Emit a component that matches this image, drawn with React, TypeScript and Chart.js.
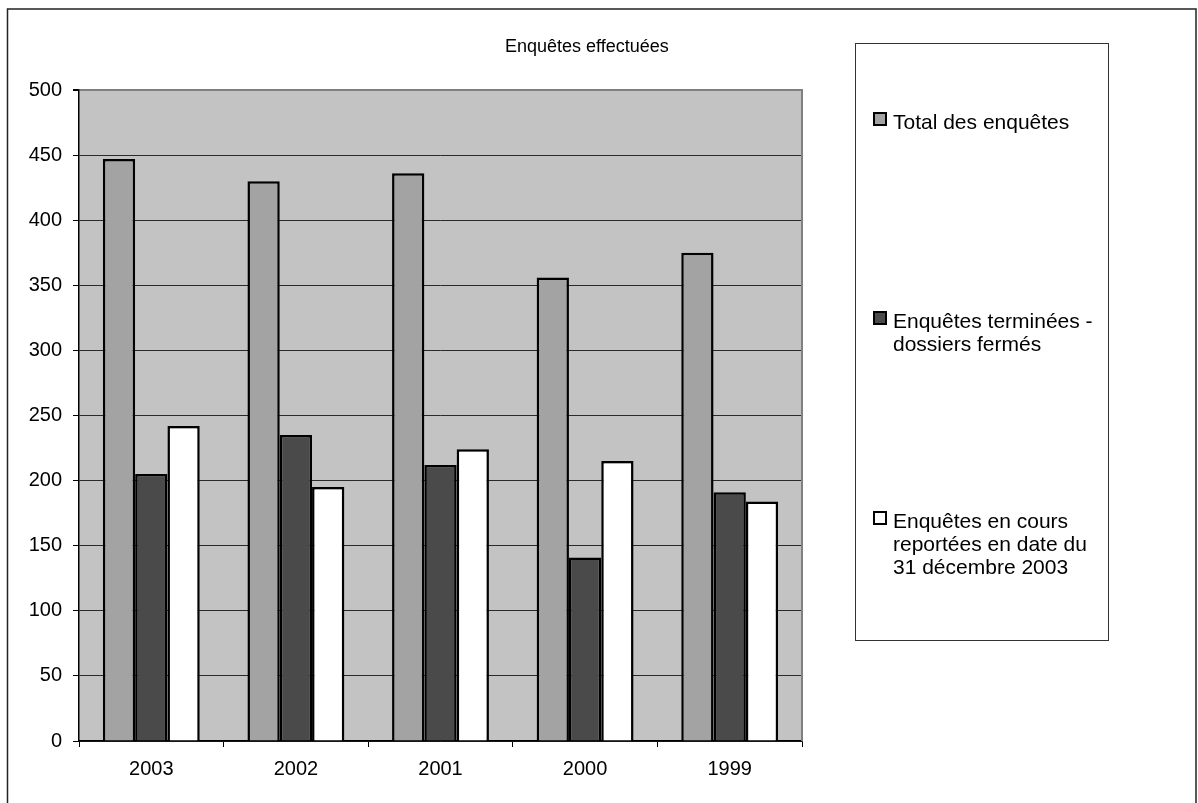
import React, { useEffect, useRef } from "react";
import { Chart, registerables } from "chart.js";

Chart.register(...registerables);

const categories = ["2003", "2002", "2001", "2000", "1999"];
const totalEnquetes = [447, 430, 436, 356, 375];
const enquetesTerminees = [205, 235, 212, 141, 191];
const enquetesEnCours = [242, 195, 224, 215, 184];
const yTicks = [0, 50, 100, 150, 200, 250, 300, 350, 400, 450, 500];

const seriesLabels = [
  ["Total des enquêtes"],
  ["Enquêtes terminées -", "dossiers fermés"],
  ["Enquêtes en cours", "reportées en date du", "31 décembre 2003"],
];
const seriesColors = ["#a3a3a3", "#4a4a4a", "#ffffff"];
const titleText = "Enquêtes effectuées";

const FONT = "'Liberation Sans', Arial, sans-serif";

export default function App() {
  const ref = useRef<HTMLCanvasElement | null>(null);

  useEffect(() => {
    if (!ref.current) return;
    const decor = {
      id: "decor",
      beforeDraw(chart: any) {
        const { ctx, chartArea } = chart;
        ctx.save();
        ctx.fillStyle = "#c3c3c3";
        ctx.fillRect(chartArea.left, chartArea.top, chartArea.right - chartArea.left, chartArea.bottom - chartArea.top);
        ctx.restore();
      },
      afterDraw(chart: any) {
        const { ctx, chartArea } = chart;
        ctx.save();
        // right plot border
        ctx.strokeStyle = "#808080";
        ctx.lineWidth = 2;
        ctx.beginPath();
        ctx.moveTo(chartArea.right, chartArea.top - 1);
        ctx.lineTo(chartArea.right, chartArea.bottom);
        ctx.stroke();
        // outer border
        ctx.strokeStyle = "#222";
        ctx.lineWidth = 1.5;
        ctx.strokeRect(7.5, 9, 1188.5, 820);
        // title
        ctx.fillStyle = "#000";
        ctx.font = `18px ${FONT}`;
        ctx.textAlign = "left";
        ctx.textBaseline = "alphabetic";
        ctx.fillText(titleText, 505, 52);
        // legend box
        ctx.strokeStyle = "#333";
        ctx.lineWidth = 1;
        ctx.strokeRect(855.5, 43.5, 253, 597);
        const markerTops = [113, 312, 512];
        ctx.font = `21px ${FONT}`;
        seriesLabels.forEach((lines, i) => {
          const my = markerTops[i];
          ctx.fillStyle = seriesColors[i];
          ctx.fillRect(874, my, 12, 12);
          ctx.strokeStyle = "#000";
          ctx.lineWidth = 2;
          ctx.strokeRect(874, my, 12, 12);
          ctx.fillStyle = "#000";
          lines.forEach((ln, j) => {
            ctx.fillText(ln, 893, my + 16 + j * 23);
          });
        });
        ctx.restore();
      },
    };

    const chart = new Chart(ref.current, {
      type: "bar",
      data: {
        labels: categories,
        datasets: [
          { label: seriesLabels[0].join(" "), data: totalEnquetes, backgroundColor: seriesColors[0], borderColor: "#000", borderWidth: 2.5 },
          { label: seriesLabels[1].join(" "), data: enquetesTerminees, backgroundColor: seriesColors[1], borderColor: "#000", borderWidth: 2.5 },
          { label: seriesLabels[2].join(" "), data: enquetesEnCours, backgroundColor: seriesColors[2], borderColor: "#000", borderWidth: 2.5 },
        ],
      },
      options: {
        animation: false,
        responsive: false,
        devicePixelRatio: 1,
        layout: { padding: { left: 0, top: 90, right: 396, bottom: 0 } },
        datasets: { bar: { categoryPercentage: 0.67, barPercentage: 1.0 } },
        plugins: { legend: { display: false }, title: { display: false }, tooltip: { enabled: false } },
        font: { family: FONT },
        scales: {
          x: {
            afterFit: (s: any) => { s.height = 62; },
            grid: { display: true, drawOnChartArea: false, drawTicks: true, tickLength: 6, color: "#000", offset: true },
            border: { display: true, color: "#000", width: 1.5 },
            ticks: { color: "#000", font: { family: FONT, size: 20 }, padding: 10 },
          },
          y: {
            min: 0,
            max: 500,
            afterFit: (s: any) => { s.width = 79; },
            afterBuildTicks: (s: any) => { s.ticks = yTicks.map((v) => ({ value: v })); },
            grid: {
              color: (c: any) => (c.tick && c.tick.value === 500 ? "#808080" : "#2a2a2a"),
              lineWidth: (c: any) => (c.tick && c.tick.value === 500 ? 2 : 1),
              tickColor: "#000",
              tickLength: 6,
              drawTicks: true,
            },
            border: { display: true, color: "#000", width: 1.5 },
            ticks: { color: "#000", font: { family: FONT, size: 20 }, padding: 11 },
          },
        },
      },
      plugins: [decor],
    } as any);
    return () => chart.destroy();
  }, []);

  return (
    <div style={{ position: "fixed", left: 0, top: 0, width: 1198, height: 803, background: "#fff" }}>
      <canvas ref={ref} width={1198} height={803} style={{ width: 1198, height: 803, display: "block" }} />
    </div>
  );
}
